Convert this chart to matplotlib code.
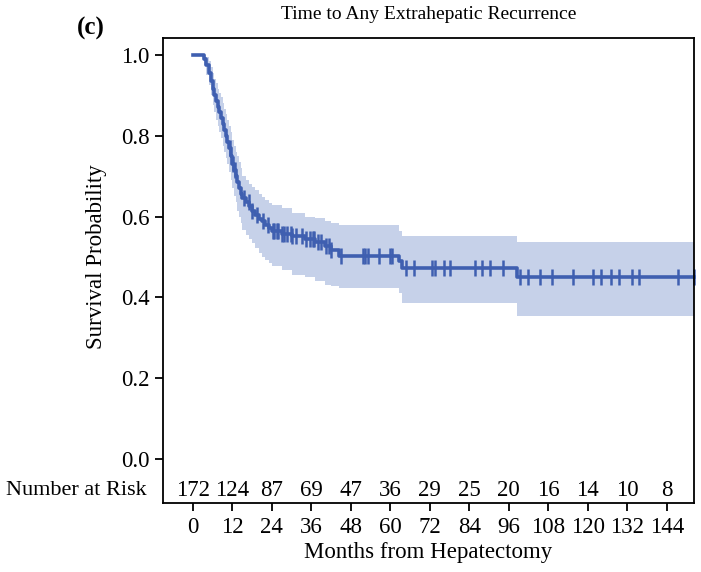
import matplotlib
matplotlib.use("Agg")
import matplotlib.pyplot as plt
import numpy as np

plt.rcParams['font.family'] = ['Liberation Serif', 'DejaVu Serif']

# Kaplan-Meier step data
times = [0, 3.5, 4, 5, 5.5, 6, 6.5, 7, 7.5, 8, 8.5, 9, 9.5, 10, 10.5, 11, 11.5, 12,
         12.5, 13, 13.5, 14, 14.5, 15, 16, 17, 18, 19, 20, 21, 22, 23, 24, 27, 30,
         34, 37, 40, 42, 44.5, 62.5, 63.5, 98.5]
surv = [1.0, 0.99, 0.975, 0.955, 0.935, 0.915, 0.9, 0.885, 0.87, 0.86, 0.845, 0.83,
        0.815, 0.80, 0.785, 0.77, 0.75, 0.73, 0.715, 0.70, 0.685, 0.67, 0.655, 0.645,
        0.635, 0.625, 0.615, 0.605, 0.595, 0.588, 0.58, 0.572, 0.564, 0.558, 0.551,
        0.545, 0.538, 0.528, 0.518, 0.502, 0.49, 0.473, 0.451]
upper = [1.0, 1.0, 0.995, 0.985, 0.97, 0.955, 0.94, 0.93, 0.915, 0.905, 0.895, 0.88,
         0.865, 0.855, 0.84, 0.825, 0.81, 0.79, 0.775, 0.76, 0.75, 0.735, 0.72, 0.70,
         0.69, 0.68, 0.673, 0.665, 0.655, 0.648, 0.64, 0.634, 0.628, 0.622, 0.608,
         0.60, 0.596, 0.588, 0.585, 0.579, 0.565, 0.552, 0.537]
lower = [1.0, 0.975, 0.95, 0.925, 0.9, 0.875, 0.86, 0.84, 0.825, 0.81, 0.795, 0.775,
         0.76, 0.745, 0.73, 0.71, 0.69, 0.67, 0.65, 0.635, 0.615, 0.60, 0.585, 0.567,
         0.555, 0.545, 0.535, 0.522, 0.51, 0.50, 0.492, 0.485, 0.478, 0.468, 0.455,
         0.45, 0.44, 0.43, 0.427, 0.423, 0.41, 0.385, 0.355]
end_time = 152.3

censor_times = [11.4, 12.3, 12.9, 15.4, 16.9, 18.1, 19.6, 21.2, 22.7, 24.2, 24.6,
                25.7, 26.0, 27.0, 27.7, 28.5, 29.7, 30.2, 31.3, 33.3, 34.3, 35.6,
                36.4, 36.8, 37.9, 38.9, 40.4, 41.4, 42.0, 45.0, 51.6, 52.3, 53.2,
                56.7, 59.8, 60.5, 64.7, 67.1, 72.8, 73.5, 76.4, 78.1, 85.7, 87.8,
                90.3, 94.4, 99.3, 101.7, 105.6, 109.2, 115.6, 121.6, 124.0, 127.1,
                129.4, 133.5, 135.7, 147.4, 152.3]

risk_times = [0, 12, 24, 36, 48, 60, 72, 84, 96, 108, 120, 132, 144]
risk_counts = [172, 124, 87, 69, 47, 36, 29, 25, 20, 16, 14, 10, 8]
yticks = [0.0, 0.2, 0.4, 0.6, 0.8, 1.0]

line_col = '#3f5fb0'
band_col = '#c6d1e9'
FS = 16.5

fig = plt.figure(figsize=(7.01, 5.72), dpi=100)
ax = fig.add_axes([0.232, 0.1206, 0.758, 0.813])

t_ext = times + [end_time]
s_ext = surv + [surv[-1]]
u_ext = upper + [upper[-1]]
l_ext = lower + [lower[-1]]

ax.fill_between(t_ext, l_ext, u_ext, step='post', color=band_col, lw=0)
ax.step(t_ext, s_ext, where='post', color=line_col, lw=2.6, clip_on=False)

cs = [surv[np.searchsorted(times, c, side='right') - 1] for c in censor_times]
ax.plot(censor_times, cs, ls='none', marker='|', ms=11, mew=1.8, color=line_col,
        clip_on=False)

ax.set_xlim(-9.2, 152.3)
ax.set_ylim(-0.109, 1.042)
ax.set_xticks(risk_times)
ax.set_xticklabels([str(t) for t in risk_times])
ax.set_yticks(yticks)
ax.set_yticklabels([f"{v:.1f}" for v in yticks])
ax.tick_params(axis='both', labelsize=FS, length=6, width=1.3, direction='out',
               colors='black')
ax.tick_params(axis='x', pad=4)
for s in ax.spines.values():
    s.set_linewidth(1.3)

for t, n in zip(risk_times, risk_counts):
    ax.text(t, -0.077, str(n), ha='center', va='center', fontsize=FS)
ax.text(-0.03, (-0.077 + 0.109) / 1.151, 'Number at Risk', transform=ax.transAxes,
        ha='right', va='center', fontsize=16)

ax.set_ylabel('Survival Probability', fontsize=FS)
ax.yaxis.set_label_coords(-0.105, 0.529)
ax.set_xlabel('Months from Hepatectomy', fontsize=FS, labelpad=3)

fig.text(0.612, 0.975, 'Time to Any Extrahepatic Recurrence', ha='center',
         va='center', fontsize=14)
fig.text(0.13, 0.95, '(c)', ha='center', va='center', fontsize=18,
         fontweight='bold')

fig.savefig('out.png', dpi=100)
